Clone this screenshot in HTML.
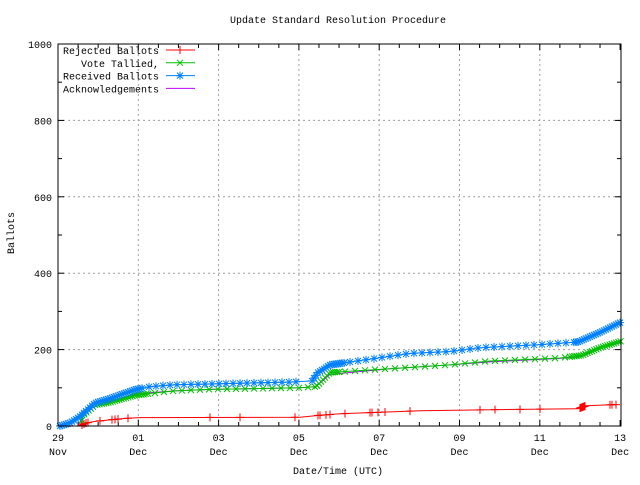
<!DOCTYPE html>
<html><head><meta charset="utf-8"><style>
html,body{margin:0;padding:0;background:#fff;}
svg text{font-family:"Liberation Mono","DejaVu Sans Mono",monospace;font-size:10px;fill:#000;}
</style></head><body>
<svg id="s" width="640" height="480" xmlns="http://www.w3.org/2000/svg">
<rect width="640" height="480" fill="#fff"/>
<text x="338" y="23" text-anchor="middle">Update Standard Resolution Procedure</text>
<g id="grid" stroke="#a0a0a0" stroke-dasharray="2,3" stroke-width="1"></g>
<g id="ticks" stroke="#000" stroke-width="1"></g>
<g id="labels"></g>
<text transform="translate(14,233) rotate(-90)" text-anchor="middle">Ballots</text>
<text x="338" y="474" text-anchor="middle">Date/Time (UTC)</text>
<g id="series"></g>
<rect x="58" y="44" width="563" height="382" fill="none" stroke="#000" stroke-width="1"/>
<g id="legend"></g>
</svg>
<script>
var NS="http://www.w3.org/2000/svg";
function el(p,t,a,txt){var e=document.createElementNS(NS,t);for(var k in a)e.setAttribute(k,a[k]);if(txt!=null)e.textContent=txt;document.getElementById(p).appendChild(e);return e;}
var L=58,R=621,T=44,B=426;
function Y(v){return B-v*0.382;}
for(var v=0;v<=1000;v+=200){var y=Y(v);if(v>0&&v<1000)el("grid","line",{x1:L,x2:R,y1:y,y2:y});
el("labels","text",{x:52,y:y+4,"text-anchor":"end"},String(v));}
for(var v=0;v<=1000;v+=100){var y=Y(v);var l=v%200==0?6:4;el("ticks","line",{x1:L,x2:L+l,y1:y,y2:y});el("ticks","line",{x1:R,x2:R-l,y1:y,y2:y});}
var days=["29","01","03","05","07","09","11","13"],mons=["Nov","Dec","Dec","Dec","Dec","Dec","Dec","Dec"];
for(var i=0;i<8;i++){var x=58+i*80.3;if(i>0&&i<7)el("grid","line",{x1:x,x2:x,y1:T,y2:B});
el("labels","text",{x:x,y:441,"text-anchor":"middle"},days[i]);el("labels","text",{x:x,y:455,"text-anchor":"middle"},mons[i]);}
for(var i=0;i<=28;i++){var x=58+i*20.075;var l=i%4==0?6:4;el("ticks","line",{x1:x,x2:x,y1:B,y2:B-l});el("ticks","line",{x1:x,x2:x,y1:T,y2:T+l});}
function interp(pts,x){for(var i=1;i<pts.length;i++){if(x<=pts[i][0]){var a=pts[i-1],b=pts[i];return a[1]+(b[1]-a[1])*(x-a[0])/(b[0]-a[0]);}}return pts[pts.length-1][1];}
function path(pts){return pts.map(function(p,i){return (i?"L":"M")+p[0]+","+Y(p[1]);}).join("");}
var blue=[[60,0],[70,8],[80,25],[95,60],[110,72],[135,95],[150,103],[175,108],[210,110],[290,115],[312,118],[318,140],[330,160],[370,175],[410,190],[450,195],[480,205],[540,213],[578,220],[600,245],[621,272]];
var green=[[80,0],[84,30],[95,55],[110,62],[135,80],[150,85],[175,92],[210,96],[300,100],[316,103],[330,140],[390,150],[450,160],[490,170],[560,178],[582,185],[600,205],[621,222]];
var mag=[[78,0],[86,40],[95,58],[110,65],[135,82],[150,87],[175,92],[210,96],[300,100],[316,103],[330,135],[390,150],[450,160],[490,168],[560,177],[582,182],[600,205],[621,220]];
var red=[[80,0],[86,8],[95,12],[110,16],[125,20],[140,22],[300,23],[320,28],[340,32],[380,36],[420,40],[500,43],[578,45],[586,53],[615,56]];
var cols={r:"#ff0000",g:"#00c000",b:"#0080ff",m:"#c000ff"};
el("series","path",{d:path(mag),fill:"none",stroke:cols.m,"stroke-width":1});
el("series","path",{d:path(red),fill:"none",stroke:cols.r,"stroke-width":1});
el("series","path",{d:path(green),fill:"none",stroke:cols.g,"stroke-width":1});
el("series","path",{d:path(blue),fill:"none",stroke:cols.b,"stroke-width":1});
function plus(g,x,y,c){el(g,"path",{d:"M"+(x-4)+","+y+"h8M"+x+","+(y-4)+"v8",stroke:c,"stroke-width":1,fill:"none"});}
function cross(g,x,y,c){el(g,"path",{d:"M"+(x-3)+","+(y-3)+"l6,6M"+(x-3)+","+(y+3)+"l6,-6",stroke:c,"stroke-width":1,fill:"none"});}
function star(g,x,y,c){plus(g,x,y,c);cross(g,x,y,c);}
var rx=[82,84,86,88,100,112,115,118,128,210,240,295,318,320,326,330,345,370,372,378,385,410,480,495,520,540,580,581,582,583,584,585,610,612,616];
rx.forEach(function(x){plus("series",x,Y(interp(red,x)),cols.r);});
var gx=[];for(var x=82;x<=150;x+=2.2)gx.push(x);for(var x=155;x<=320;x+=9)gx.push(x);for(var x=315;x<=340;x+=2)gx.push(x);for(var x=345;x<=570;x+=10)gx.push(x);for(var x=570;x<=621;x+=2.2)gx.push(x);
gx.forEach(function(x){cross("series",x,Y(interp(green,x)),cols.g);});
var bx=[];for(var x=60;x<=140;x+=2)bx.push(x);for(var x=142;x<=300;x+=7)bx.push(x);for(var x=312;x<=345;x+=2)bx.push(x);for(var x=350;x<=575;x+=8)bx.push(x);for(var x=576;x<=621;x+=2)bx.push(x);
bx.forEach(function(x){star("series",x,Y(interp(blue,x)),cols.b);});
var lg=[["Rejected Ballots",cols.r,plus],["Vote Tallied,",cols.g,cross],["Received Ballots",cols.b,star],["Acknowledgements",cols.m,null]];
lg.forEach(function(e,i){var y=50+i*12.8;el("legend","text",{x:159,y:y+4,"text-anchor":"end"},e[0]);
el("legend","line",{x1:166,x2:195,y1:y,y2:y,stroke:e[1],"stroke-width":1});if(e[2])e[2]("legend",180,y,e[1]);});
</script>
</body></html>
